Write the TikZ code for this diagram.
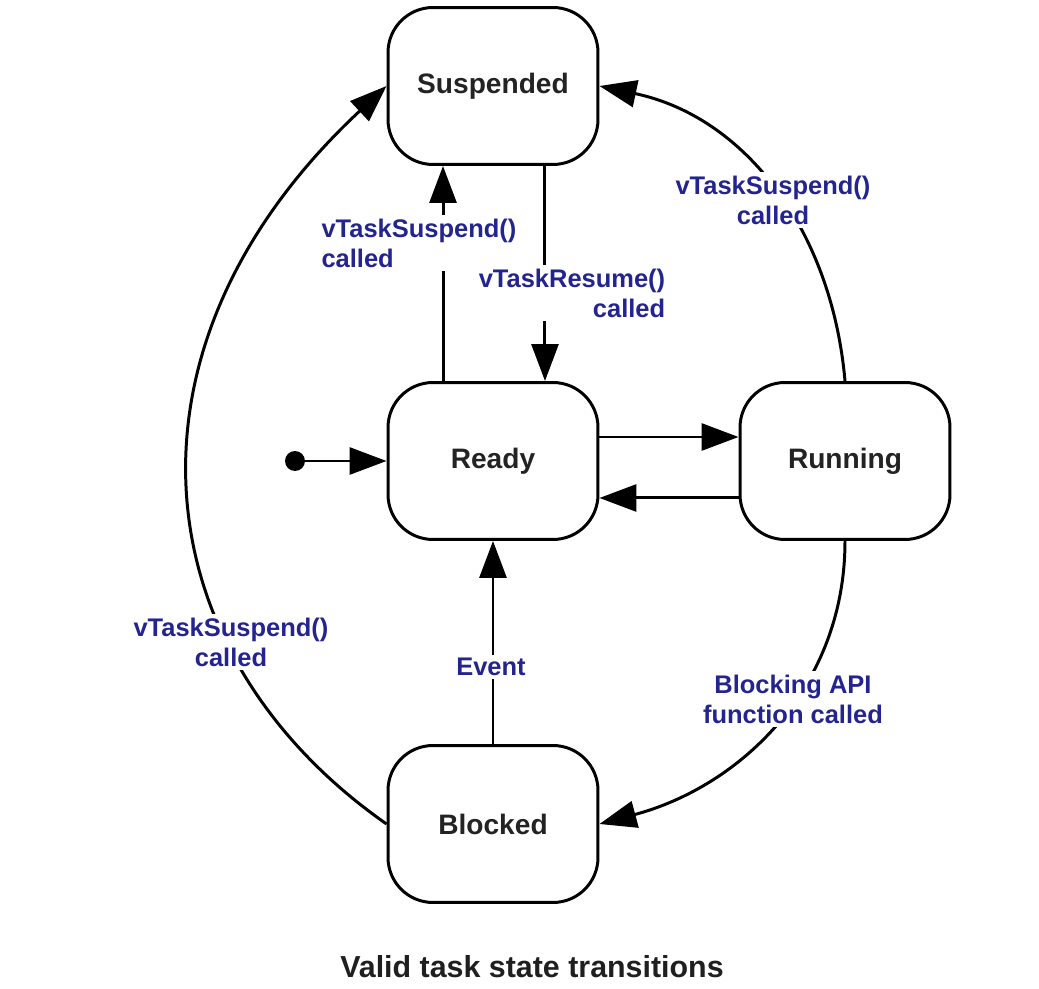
\documentclass[tikz,border=0pt]{standalone}
\usepackage{fontspec}
\setmainfont{Liberation Sans}
\usetikzlibrary{arrows.meta}
\definecolor{lblblue}{RGB}{36,36,145}
\definecolor{txtgray}{RGB}{35,35,35}

\begin{document}
\begin{tikzpicture}[x=0.02cm,y=0.02cm,
  state/.style={draw,line width=1.7pt,rounded corners=0.9cm,minimum width=4.2cm,minimum height=3.14cm,font=\fontsize{16}{19}\selectfont\bfseries,text=txtgray},
  trans/.style={line width=1.7pt,-{Triangle[length=0.74cm,width=0.54cm]}},
  lbl/.style={fill=white,inner sep=2pt,text=lblblue,font=\fontsize{14.5}{17}\selectfont\bfseries,align=center}]
\useasboundingbox (0,0) rectangle (1039,-989);
\node[state] (susp) at (493,-86) {Suspended};
\node[state] (ready) at (493,-461) {Ready};
\node[state] (run) at (845,-461) {Running};
\node[state] (blocked) at (493,-824) {Blocked};
\node[circle,fill,inner sep=0pt,minimum size=0.4cm] (init) at (295,-461) {};
\draw[trans] (init) -- (ready.west);
\draw[trans] ([xshift=-1cm]ready.north) -- ([xshift=-1cm]susp.south);
\draw[trans] ([xshift=1.04cm]susp.south) -- ([xshift=1.04cm]ready.north);
\draw[trans] ([yshift=0.48cm]ready.east) -- ([yshift=0.48cm]run.west);
\draw[trans] ([yshift=-0.74cm]run.west) -- ([yshift=-0.74cm]ready.east);
\draw[trans] (blocked.north) -- (ready.south);
\draw[trans] (run.north) to[out=95,in=-12] (susp.east);
\draw[trans] (run.south) to[out=-90,in=15] (blocked.east);
\draw[trans] (blocked.west) to[out=145,in=-137,out looseness=1.05,in looseness=1.32] (susp.west);
\node[lbl,align=left] (suspready) at (419,-243) {vTaskSuspend()\\called};
\node[lbl,align=right] (resume) at (572,-293) {vTaskResume()\\called};
\node[lbl] (susprun) at (773,-200) {vTaskSuspend()\\called};
\node[lbl] (suspblocked) at (231,-642) {vTaskSuspend()\\called};
\node[lbl] (blocking) at (793,-699) {Blocking API\\function called};
\node[lbl] (event) at (491,-667) {Event};
\node[font=\fontsize{17.3}{20}\selectfont\bfseries,text=black!88] (caption) at (532,-967) {Valid task state transitions};
\end{tikzpicture}
\end{document}
